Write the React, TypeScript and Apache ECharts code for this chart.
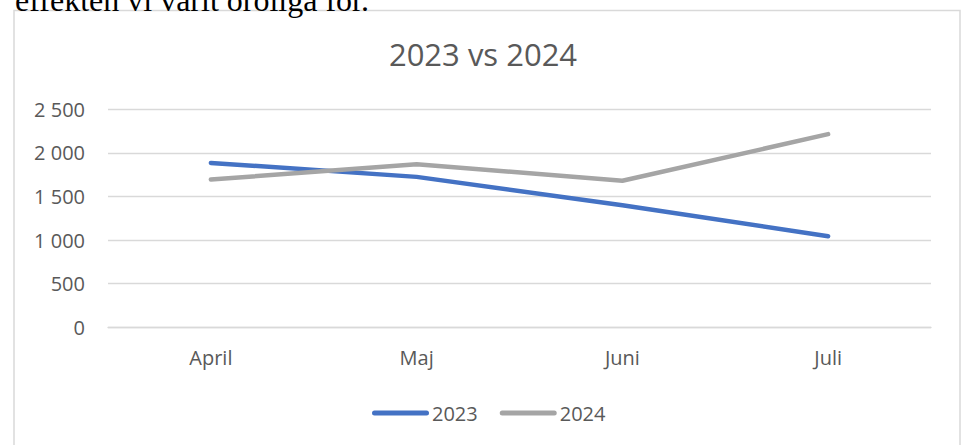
import React, { useEffect, useRef } from "react";
import * as echarts from "echarts";

const categories = ["April", "Maj", "Juni", "Juli"];
const values2023 = [1885, 1725, 1400, 1045];
const values2024 = [1695, 1870, 1680, 2215];
const seriesNames = ["2023", "2024"];
const titleText = "2023 vs 2024";
const topText = "effekten vi varit oroliga för.";

const FONT = "'Open Sans', 'Noto Sans', sans-serif";

function fmt(v: number): string {
  if (v >= 1000) {
    return `${Math.floor(v / 1000)} ${String(v % 1000).padStart(3, "0")}`;
  }
  return String(v);
}

export default function App() {
  const ref = useRef<HTMLDivElement>(null);
  useEffect(() => {
    if (!ref.current) return;
    const chart = echarts.init(ref.current, undefined, { renderer: "svg" });
    chart.setOption({
      animation: false,
      backgroundColor: "#ffffff",
      title: {
        text: titleText,
        left: "center",
        top: 33,
        textStyle: {
          fontFamily: FONT,
          fontSize: 31,
          fontWeight: "normal",
          color: "#595959",
        },
      },
      graphic: [
        {
          type: "rect",
          shape: { x: 14, y: 10.5, width: 946, height: 460 },
          style: { fill: "none", stroke: "#d9d9d9", lineWidth: 1.5 },
          silent: true,
        },
        {
          type: "text",
          x: 15,
          y: 0,
          style: {
            text: topText,
            fontFamily: "'Liberation Serif', 'Times New Roman', serif",
            fontSize: 32,
            fill: "#000000",
            verticalAlign: "middle",
            align: "left",
          },
          silent: true,
        },
      ],
      legend: {
        data: seriesNames,
        left: 367,
        top: 398,
        itemWidth: 57,
        itemHeight: 5,
        itemGap: 22,
        icon: "path://M2.5,0 L54.5,0 A2.5,2.5 0 0 1 54.5,5 L2.5,5 A2.5,2.5 0 0 1 2.5,0 Z",
        textStyle: { fontFamily: FONT, fontSize: 20, color: "#595959", padding: [0, 0, 0, -2] },
      },
      grid: { left: 108, right: 35, top: 109.3, bottom: 117.7, containLabel: false },
      xAxis: {
        type: "category",
        data: categories,
        boundaryGap: true,
        axisLine: { show: true, lineStyle: { color: "#d9d9d9", width: 1.3 } },
        axisTick: { show: false },
        axisLabel: { fontFamily: FONT, fontSize: 20, color: "#595959", margin: 20 },
      },
      yAxis: {
        type: "value",
        min: 0,
        max: 2500,
        interval: 500,
        axisLine: { show: false },
        axisTick: { show: false },
        splitLine: { lineStyle: { color: "#d9d9d9", width: 1.3 } },
        axisLabel: {
          fontFamily: FONT,
          fontSize: 20,
          color: "#595959",
          margin: 23,
          formatter: (v: number) => fmt(v),
        },
      },
      series: [
        {
          name: seriesNames[0],
          type: "line",
          data: values2023,
          symbol: "none",
          color: "#4472C4",
          lineStyle: { color: "#4472C4", width: 4.5, cap: "round", join: "round" },
        },
        {
          name: seriesNames[1],
          type: "line",
          data: values2024,
          symbol: "none",
          color: "#A5A5A5",
          lineStyle: { color: "#A5A5A5", width: 4.5, cap: "round", join: "round" },
        },
      ],
    });
    return () => chart.dispose();
  }, []);
  return (
    <div
      ref={ref}
      style={{ position: "fixed", left: 0, top: 0, width: 966, height: 445 }}
    />
  );
}
